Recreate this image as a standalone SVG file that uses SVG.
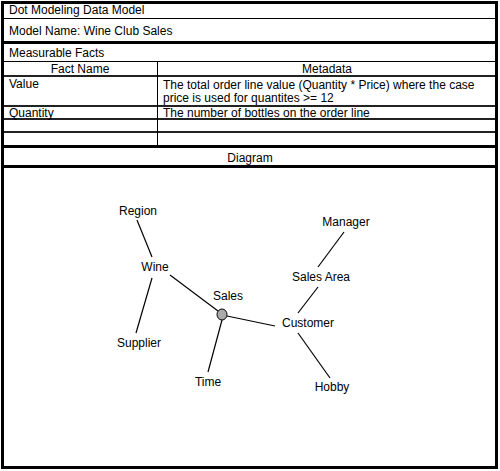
<svg xmlns="http://www.w3.org/2000/svg" width="500" height="471" viewBox="0 0 500 471">
<style>
text{font-family:"Liberation Sans",Arial,sans-serif;font-size:12px;fill:#000}
.c{text-anchor:middle}
.thin{stroke:#000;stroke-width:1;fill:none}
.mid{stroke:#222;stroke-width:2;fill:none}
.thk{stroke:#000;stroke-width:3;fill:none}
.edge{stroke:#000;stroke-width:1.2;fill:none}
</style>
<rect width="500" height="471" fill="#fff"/>
<g id="form">
<line class="thin" x1="3" y1="18.5" x2="497" y2="18.5"/>
<line class="thk" x1="3" y1="42.5" x2="497" y2="42.5"/>
<line class="thin" x1="3" y1="61.5" x2="497" y2="61.5"/>
<line class="mid" x1="3" y1="76" x2="497" y2="76"/>
<line class="mid" x1="3" y1="106" x2="497" y2="106"/>
<line class="mid" x1="3" y1="119" x2="497" y2="119"/>
<line class="mid" x1="3" y1="132" x2="497" y2="132"/>
<line class="thk" x1="3" y1="146.5" x2="497" y2="146.5"/>
<line class="thk" x1="3" y1="166.5" x2="497" y2="166.5"/>
<line class="thin" x1="157.5" y1="61.5" x2="157.5" y2="146"/>
<rect class="thk" x="2.5" y="2.5" width="494" height="465"/>
<text x="9" y="14">Dot Modeling Data Model</text>
<text x="9" y="35">Model Name: Wine Club Sales</text>
<text x="9" y="57">Measurable Facts</text>
<text class="c" x="80" y="73">Fact Name</text>
<text class="c" x="327" y="73">Metadata</text>
<text x="9" y="88">Value</text>
<text x="163" y="89">The total order line value (Quantity * Price) where the case</text>
<text x="163" y="102">price is used for quantites &gt;= 12</text>
<text x="9" y="117">Quantity</text>
<text x="163" y="117">The number of bottles on the order line</text>
<text class="c" x="250" y="162">Diagram</text>
</g>
<g id="connectors">
<line class="edge" x1="137" y1="220" x2="152" y2="257"/>
<line class="edge" x1="152" y1="278" x2="136" y2="333"/>
<line class="edge" x1="170" y1="275" x2="218" y2="311"/>
<line class="edge" x1="222" y1="320" x2="208" y2="372"/>
<line class="edge" x1="227" y1="316" x2="275" y2="326"/>
<line class="edge" x1="298" y1="313" x2="318" y2="287"/>
<line class="edge" x1="318" y1="267" x2="344" y2="232"/>
<line class="edge" x1="298" y1="333" x2="330" y2="378"/>
</g>
<g id="node-sales-dot"><ellipse cx="222" cy="314.5" rx="5" ry="5.5" fill="#aaa" stroke="#000" stroke-width="1"/></g>
<g id="node-region"><text class="c" x="138" y="215">Region</text></g>
<g id="node-wine"><text class="c" x="155" y="271">Wine</text></g>
<g id="node-sales"><text class="c" x="228" y="300">Sales</text></g>
<g id="node-supplier"><text class="c" x="139" y="347">Supplier</text></g>
<g id="node-time"><text class="c" x="208" y="386">Time</text></g>
<g id="node-manager"><text class="c" x="346" y="226">Manager</text></g>
<g id="node-sales-area"><text class="c" x="321" y="281">Sales Area</text></g>
<g id="node-customer"><text class="c" x="308" y="327">Customer</text></g>
<g id="node-hobby"><text class="c" x="332" y="391">Hobby</text></g>
</svg>
